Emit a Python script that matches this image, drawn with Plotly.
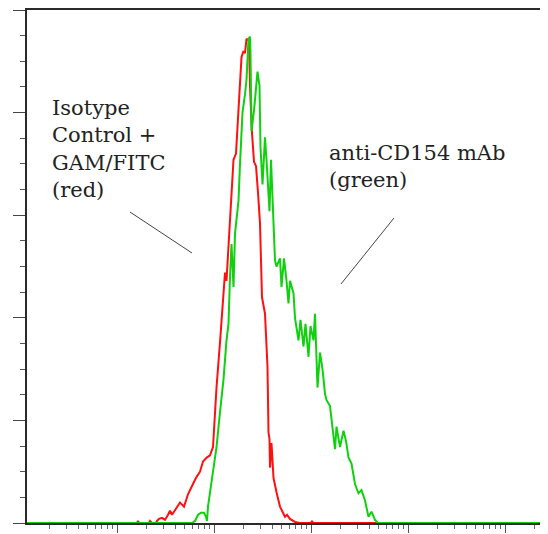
import math
import plotly.graph_objects as go

# ---- data (x = fluorescence channel, y = events) ----
red_channel = [0, 220, 222, 224, 244, 246, 250, 258, 260, 264, 270, 276, 282, 286, 290,
               298, 306, 314, 322, 330, 338, 346, 352, 360, 366, 372, 379, 386, 393,
               396, 399, 406, 409, 413, 418, 423, 429, 433, 436, 439, 444, 446, 450,
               454, 458, 462, 466, 470, 476, 481, 483, 485, 486, 489, 493, 499, 506,
               512, 516, 520, 526, 536, 546, 568, 570, 572, 1028]
red_count = [0, 0, 1, 0, 0, 1, 0, 0, 1, 2, 2.5, 1.5, 4, 6, 4,
             7, 10, 8, 14, 18, 22, 25, 30, 32, 33, 37, 66, 88, 109,
             122, 118, 146, 155, 177, 180, 203, 227, 230, 229, 236, 235, 213, 190,
             176, 174, 161, 146, 110, 102, 76, 44, 41, 27, 39, 22, 15, 8,
             5, 3, 4, 2, 0.5, 0, 0, 1, 0, 0]

green_channel = [0, 330, 336, 342, 348, 354, 358, 360, 362, 366, 373, 379, 386, 393,
                 399, 403, 406, 409, 413, 416, 419, 423, 426, 431, 436, 439, 443, 446,
                 447, 449, 454, 461, 465, 467, 471, 476, 479, 485, 488, 493, 496, 499,
                 506, 509, 514, 519, 523, 526, 533, 536, 543, 547, 553, 557, 563, 567,
                 573, 576, 581, 586, 591, 596, 599, 606, 611, 616, 619, 626, 633, 638,
                 643, 649, 656, 663, 669, 676, 683, 689, 696, 702, 1028]
green_count = [0, 0, 1, 4, 5, 5, 3, 1, 8, 15, 27, 37, 54, 70,
               89, 97, 120, 136, 115, 141, 148, 157, 175, 200, 209, 216, 236, 237,
               229, 191, 201, 220, 213, 183, 165, 188, 177, 152, 177, 149, 128, 125,
               129, 115, 129, 118, 107, 118, 112, 100, 89, 99, 86, 97, 81, 96,
               89, 102, 66, 83, 75, 63, 60, 57, 47, 36, 47, 37, 45, 40,
               32, 29, 19, 14.5, 16, 11, 3, 5.5, 1.5, 0, 0]

red_label = "Isotype<br>Control +<br>GAM/FITC<br>(red)"
green_label = "anti-CD154 mAb<br>(green)"

# ---- log-decade tick positions on the channel axis ----
x_min, x_max = 0, 1028
decade_start, decade_width = 180, 194
major_ticks, minor_ticks = [], []
for d in range(-1, 5):
    for k in range(1, 10):
        v = decade_start + decade_width * (d + math.log10(k))
        if x_min <= v <= x_max:
            (major_ticks if k == 1 else minor_ticks).append(v)

fig = go.Figure()
fig.add_trace(go.Scatter(x=red_channel, y=red_count, mode="lines",
                         line=dict(color="#ff1010", width=2), showlegend=False))
fig.add_trace(go.Scatter(x=green_channel, y=green_count, mode="lines",
                         line=dict(color="#10d010", width=2), showlegend=False))

axis_line = dict(showline=True, linecolor="#2a2a2a", linewidth=2, mirror=True,
                 showgrid=False, zeroline=False, showticklabels=False,
                 automargin=False)

fig.update_xaxes(range=[x_min, x_max], tickmode="array", tickvals=major_ticks,
                 ticks="outside", ticklen=8, tickwidth=1, tickcolor="#555",
                 minor=dict(tickmode="array", tickvals=minor_ticks, ticks="outside",
                            ticklen=4, tickwidth=1, tickcolor="#666"),
                 **axis_line)
fig.update_yaxes(range=[0, 250], tick0=0, dtick=50, ticks="outside", ticklen=12,
                 tickwidth=1, tickcolor="#444",
                 minor=dict(dtick=12.5, ticks="outside", ticklen=5, tickwidth=1,
                            tickcolor="#555"),
                 **axis_line)

txt_font = dict(family="DejaVu Serif", size=21, color="#222")
fig.add_annotation(text=red_label, xref="paper", yref="paper", x=0.045, y=0.836,
                   xanchor="left", yanchor="top", align="left", showarrow=False,
                   font=txt_font)
fig.add_annotation(text=green_label, xref="paper", yref="paper", x=0.583, y=0.748,
                   xanchor="left", yanchor="top", align="left", showarrow=False,
                   font=txt_font)

lead = dict(color="#444", width=1)
fig.add_shape(type="line", xref="paper", yref="paper",
              x0=0.2004, y0=0.6062, x1=0.321, y1=0.5263, line=lead)
fig.add_shape(type="line", xref="paper", yref="paper",
              x0=0.714, y0=0.5945, x1=0.6109, y1=0.4659, line=lead)

# the page adds an 8px body margin, so the figure is sized to fit the window
fig.update_layout(width=540, height=526, margin=dict(l=19, r=7, t=2, b=11),
                  paper_bgcolor="white", plot_bgcolor="white")

fig.write_html("out.html")
